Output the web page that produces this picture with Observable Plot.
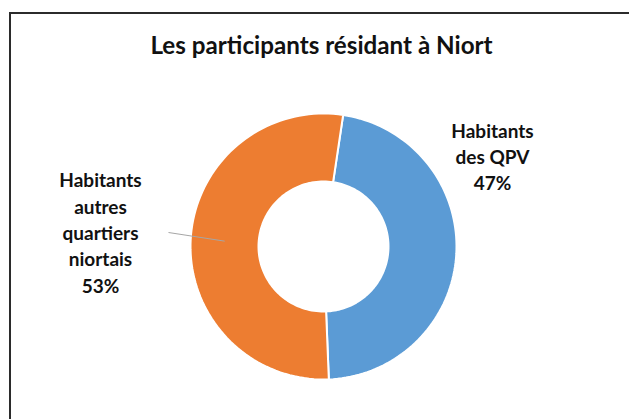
<!DOCTYPE html>
<html><head><meta charset="utf-8">
<script src="https://cdn.jsdelivr.net/npm/d3@7"></script>
<script src="https://cdn.jsdelivr.net/npm/@observablehq/plot@0.6"></script>
<style>
html,body{margin:0;padding:0;background:#fff;}
#wrap{position:relative;width:629px;height:419px;overflow:hidden;font-family:Lato,"Open Sans",sans-serif;}
#frame{position:absolute;left:9px;top:12px;width:700px;height:500px;border:2px solid #2b2b2b;box-sizing:border-box;pointer-events:none;}
#title{position:absolute;left:0;width:643px;top:29.5px;text-align:center;font-size:24.2px;font-weight:bold;color:#111;line-height:30px;white-space:nowrap;}
#chart{position:absolute;left:0;top:0;}
</style></head><body>
<div id="wrap"><div id="chart"></div><div id="title"></div><div id="frame"></div></div>
<script>
const title = "Les participants résidant à Niort";
const categories = ["Habitants des QPV", "Habitants autres quartiers niortais"];
const values = [47, 53];
const labelTexts = ["Habitants\ndes QPV\n47%", "Habitants\nautres\nquartiers\nniortais\n53%"];
const colors = ["#5B9BD5", "#ED7D31"];

document.getElementById("title").textContent = title;

// layout (pixels)
const W = 629, H = 419, cx = 323, cy = 246, R = 133, rIn = 65;
const k = rIn / R;
const start = 8.5 * Math.PI / 180;
const arcs = d3.pie().sort(null).startAngle(start).endAngle(start + 2 * Math.PI)(values);

const pts = [];
arcs.forEach((a, i) => {
  const n = 90;
  for (let j = 0; j <= n; j++) {
    const t = a.startAngle + (a.endAngle - a.startAngle) * j / n;
    pts.push({cat: categories[i], x: Math.sin(t), y: -Math.cos(t)});
  }
  for (let j = n; j >= 0; j--) {
    const t = a.startAngle + (a.endAngle - a.startAngle) * j / n;
    pts.push({cat: categories[i], x: k * Math.sin(t), y: -k * Math.cos(t)});
  }
});

// label anchors in unit-radius coords
const labelPos = [{x: (492 - cx) / R, y: (155 - cy) / R}, {x: (100 - cx) / R, y: (231 - cy) / R}];
const labels = labelTexts.map((t, i) => ({text: t, ...labelPos[i]}));

// leader line for the orange slice: from label edge to slice mid-ring
const o = arcs[1];
const mid = (o.startAngle + o.endAngle) / 2;
const rm = (R + rIn) / 2 / R;
const leader = [{x1: (168 - cx) / R, y1: (232 - cy) / R, x2: rm * Math.sin(mid), y2: -rm * Math.cos(mid)}];

const chart = Plot.plot({
  width: W, height: H,
  margin: 0,
  x: {domain: [-cx / R, (W - cx) / R], range: [0, W], axis: null},
  y: {domain: [-cy / R, (H - cy) / R], range: [0, H], axis: null},
  color: {domain: categories, range: colors},
  style: {fontFamily: "Lato, 'Open Sans', sans-serif", background: "transparent"},
  marks: [
    Plot.line(pts, {x: "x", y: "y", z: "cat", fill: "cat", stroke: "white", strokeWidth: 2, curve: "linear-closed"}),
    Plot.link(leader, {x1: "x1", y1: "y1", x2: "x2", y2: "y2", stroke: "#a6a6a6", strokeWidth: 1}),
    Plot.text(labels, {x: "x", y: "y", text: "text", fontSize: 19, fontWeight: "bold", lineHeight: 1.39, fill: "#111"})
  ]
});
document.getElementById("chart").appendChild(chart);
</script>
</body></html>
